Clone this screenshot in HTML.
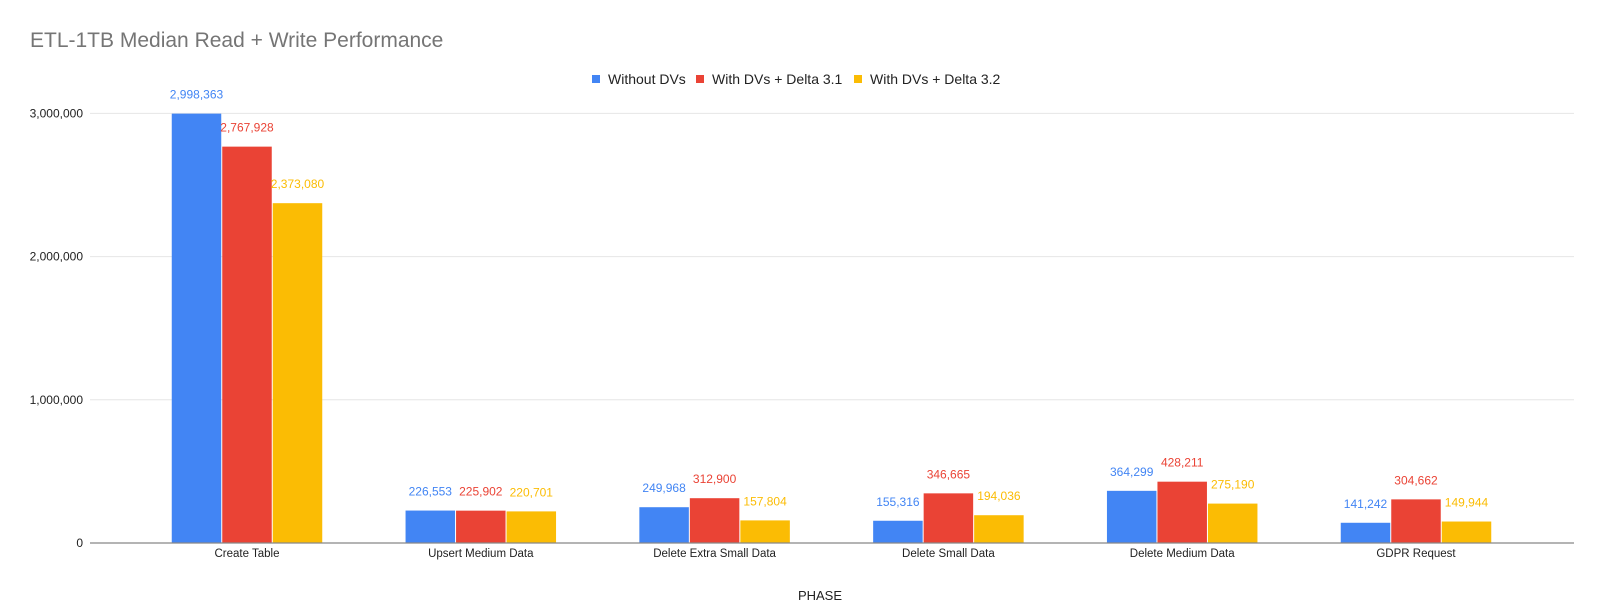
<!DOCTYPE html>
<html><head><meta charset="utf-8"><style>
html,body{margin:0;padding:0;background:#fff;}
svg{display:block;font-family:"Liberation Sans",Arial,sans-serif;}
</style></head><body>
<svg id="chart" width="1600" height="612" viewBox="0 0 1600 612">
<text x="30" y="47" font-size="21" fill="#757575">ETL-1TB Median Read + Write Performance</text>
<g>
 <g><rect x="592" y="75" width="8" height="8" fill="#4285f4"/><text x="608" y="84" font-size="14" fill="#222">Without DVs</text></g>
 <g><rect x="696" y="75" width="8" height="8" fill="#ea4335"/><text x="712" y="84" font-size="14" fill="#222">With DVs + Delta 3.1</text></g>
 <g><rect x="854" y="75" width="8" height="8" fill="#fbbc04"/><text x="870" y="84" font-size="14" fill="#222">With DVs + Delta 3.2</text></g>
</g>
<g id="grid"></g>
<g id="ylabels"></g>
<g id="bars"></g>
<g id="vlabels"></g>
<g id="xlabels"></g>
<line x1="90" y1="543" x2="1574" y2="543" stroke="#888" stroke-width="1.2"/>
<text x="820" y="600" font-size="13" fill="#222" text-anchor="middle">PHASE</text>
</svg>
<script>
const categories = ["Create Table","Upsert Medium Data","Delete Extra Small Data","Delete Small Data","Delete Medium Data","GDPR Request"];
const withoutDVs = [2998363,226553,249968,155316,364299,141242];
const delta31 = [2767928,225902,312900,346665,428211,304662];
const delta32 = [2373080,220701,157804,194036,275190,149944];
const yTicks = [0,1000000,2000000,3000000];
const seriesColors = ["#4285f4","#ea4335","#fbbc04"];
const seriesNames = ["without-dvs","delta-3-1","delta-3-2"];

const NS="http://www.w3.org/2000/svg";
const y0=543, pxPerUnit=143.2/1000000;
function yScale(v){return y0 - v*pxPerUnit;}
function xCenter(i){return 247 + i*233.8;}
function fmt(v){return v.toLocaleString("en-US");}
function mk(tag,attrs,parent){const e=document.createElementNS(NS,tag);for(const k in attrs)e.setAttribute(k,attrs[k]);parent.appendChild(e);return e;}

const grid=document.getElementById("grid"), yl=document.getElementById("ylabels");
yTicks.forEach(t=>{
  const y=yScale(t);
  if(t>0){const l=mk("line",{x1:90,x2:1574,y1:y,y2:y,stroke:"#e6e6e6","stroke-width":1},grid);
    
    }
  const tx=mk("text",{x:83,y:y+4,"font-size":12,fill:"#222","text-anchor":"end"},yl);
  tx.textContent=fmt(t);
  
  
});

const series=[withoutDVs,delta31,delta32];
const bars=document.getElementById("bars"), vl=document.getElementById("vlabels"), xl=document.getElementById("xlabels");
const bw=49.5, step=50.5;
categories.forEach((c,i)=>{
  const cx=xCenter(i);
  series.forEach((s,j)=>{
    const x=cx-1.5*step+j*step+0.5;
    const top=yScale(s[i]);
    const r=mk("rect",{x:x,y:top,width:bw,height:y0-top,fill:seriesColors[j]},bars);
    
    
    const t=mk("text",{x:x+bw/2,y:top-15,"font-size":12,fill:seriesColors[j],"text-anchor":"middle"},vl);
    t.textContent=fmt(s[i]);
    
    
  });
  const t=mk("text",{x:cx,y:557,"font-size":11.5,fill:"#222","text-anchor":"middle"},xl);
  t.textContent=c;
  
  
});
</script>
</body></html>
